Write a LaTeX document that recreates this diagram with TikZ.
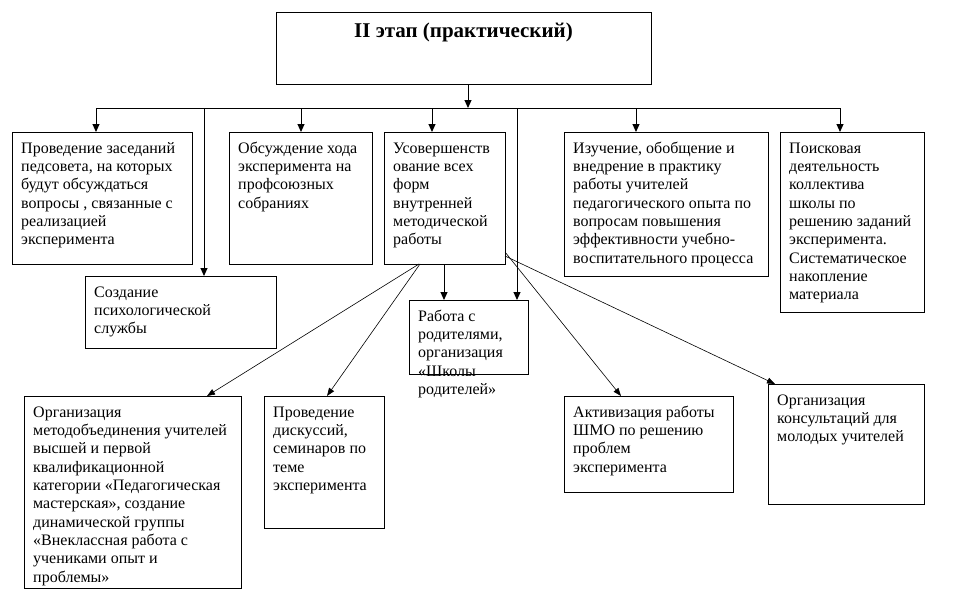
\documentclass[tikz,border=0pt]{standalone}
\usepackage{fontspec}
\setmainfont{Liberation Serif}
\usetikzlibrary{arrows.meta,calc}
\newcommand\mylines[1]{\begin{tabular}[t]{@{}l@{}}#1\end{tabular}}
\newcommand\mybox[6]{%
  \node[box, minimum width=#4pt, minimum height=#5pt] (#1) at (#2,#3) {};
  \node[txt] (#1t) at ($(#1.north west)+(9,21.3)$) {\mylines{#6}};}
\begin{document}
\begin{tikzpicture}[x=1pt,y=-1pt,
  box/.style={draw, line width=1pt, anchor=north west, inner sep=0pt, outer sep=0pt},
  txt/.style={anchor=base west, inner sep=0pt, font=\fontsize{16}{18.3}\selectfont},
  arr/.style={line width=1pt, -{Triangle[length=8pt,width=7pt]}},
  diag/.style={line width=0.6pt, -{Triangle[length=8pt,width=6pt]}},
  bus/.style={line width=1pt}]
\useasboundingbox (0,0) rectangle (961,613);
% top box
\node[box, minimum width=375pt, minimum height=72pt] (top) at (276,12) {};
\node[anchor=base, inner sep=0pt, font=\bfseries\fontsize{21}{24}\selectfont] (title) at ($(top.north)+(0,25)$) {II этап (практический)};
% first row
\mybox{n1}{12}{132}{180}{132}{Проведение заседаний\\педсовета, на которых\\будут обсуждаться\\вопросы , связанные с\\реализацией\\эксперимента}
\mybox{n2}{229}{132}{143}{132}{Обсуждение хода\\эксперимента на\\профсоюзных\\собраниях}
\mybox{n3}{384}{132}{121}{132}{Усовершенств\\ование всех\\форм\\внутренней\\методической\\работы}
\mybox{n4}{564}{132}{204}{144}{Изучение, обобщение и\\внедрение в практику\\работы учителей\\педагогического опыта по\\вопросам повышения\\эффективности учебно-\\воспитательного процесса}
\mybox{n5}{780}{132}{144}{180}{Поисковая\\деятельность\\коллектива\\школы по\\решению заданий\\эксперимента.\\Систематическое\\накопление\\материала}
% second row
\mybox{n6}{85}{276}{191}{72}{Создание\\психологической\\службы}
\mybox{n7}{409}{300}{119}{74}{Работа с\\родителями,\\организация\\«Школы\\родителей»}
% bottom row
\mybox{n8}{24}{396}{217}{192}{Организация\\методобъединения учителей\\высшей и первой\\квалификационной\\категории «Педагогическая\\мастерская», создание\\динамической группы\\«Внеклассная работа с\\учениками опыт и\\проблемы»}
\mybox{n9}{264}{396}{120}{132}{Проведение\\дискуссий,\\семинаров по\\теме\\эксперимента}
\mybox{n10}{564}{396}{169}{96}{Активизация работы\\ШМО по решению\\проблем\\эксперимента}
\mybox{n11}{768}{384}{156}{120}{Организация\\консультаций для\\молодых учителей}
% bus
\coordinate (bus) at (468,108);
\coordinate (busL) at (96,108);
\coordinate (busR) at (840,108);
\coordinate (d6) at (204,108);
\coordinate (d2) at (301,108);
\coordinate (d3) at (432,108);
\coordinate (d7) at (517,108);
\coordinate (d4) at (636,108);
\draw[arr] (top.south -| bus) -- (bus);
\draw[bus] (busL) -- (busR);
\draw[arr] (busL) -- (busL |- n1.north);
\draw[arr] (d6) -- (d6 |- n6.north);
\draw[arr] (d2) -- (d2 |- n2.north);
\draw[arr] (d3) -- (d3 |- n3.north);
\draw[arr] (d7) -- (d7 |- n7.north);
\draw[arr] (d4) -- (d4 |- n4.north);
\draw[arr] (busR) -- (busR |- n5.north);
% from n3
\coordinate (s7) at ($(n3.south west)+(60,0)$);
\draw[arr] (s7) -- (s7 |- n7.north);
\draw[diag] ($(n3.south west)+(35,0)$) -- ($(n8.north west)+(183,0)$);
\draw[diag] ($(n3.south west)+(36,0)$) -- ($(n9.north west)+(63,0)$);
\draw[diag] ($(n3.south east)+(0,-12)$) -- ($(n10.north west)+(57,0)$);
\draw[diag] ($(n3.south east)+(0,-8)$) -- ($(n11.north west)+(7,0)$);
\end{tikzpicture}
\end{document}
